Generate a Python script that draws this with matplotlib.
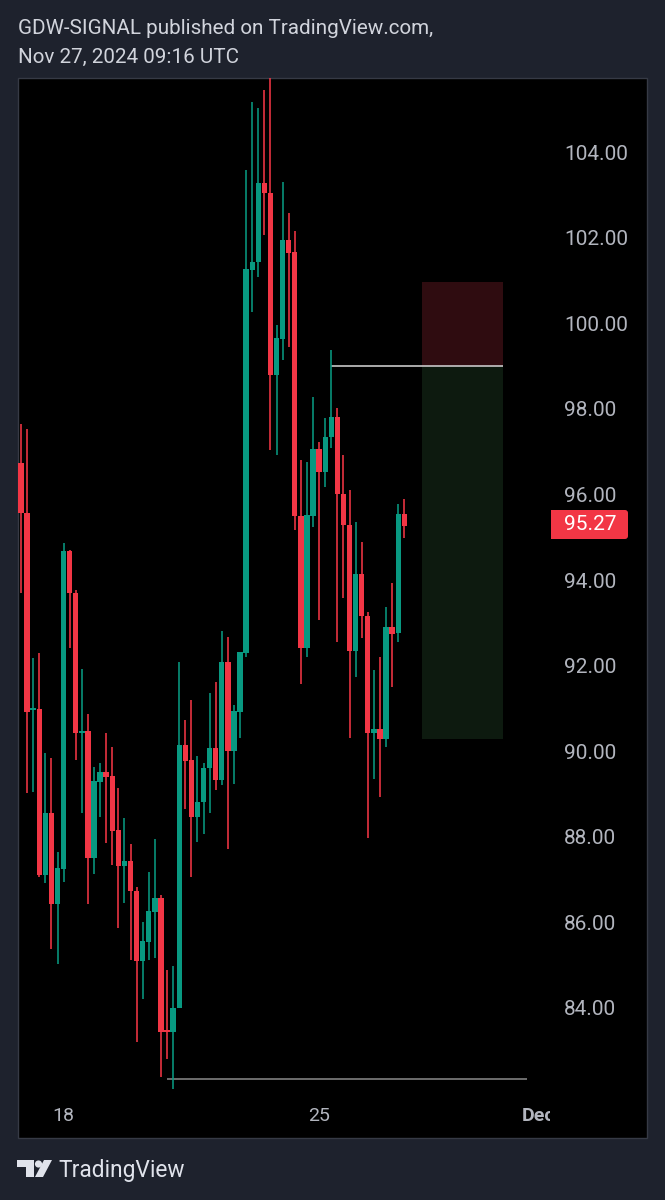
import matplotlib
matplotlib.use('Agg')
import matplotlib.pyplot as plt
from matplotlib.patches import FancyBboxPatch, Polygon, Circle, Rectangle
from matplotlib.transforms import Bbox

plt.rcParams['font.family'] = ['Roboto', 'DejaVu Sans']

# 4h candles
opens = [96.73, 95.57, 90.96, 90.99, 87.11, 88.56, 86.43, 87.25, 94.68, 93.70, 90.43, 90.47,
         87.51, 89.28, 89.51, 89.42, 88.16, 87.32, 87.43, 86.73, 85.10, 85.54, 86.24, 86.57,
         83.49, 83.44, 84.00, 90.15, 89.79, 88.46, 88.81, 89.61, 90.08, 89.33, 92.08, 90.00,
         90.92, 92.29, 101.24, 101.43, 103.28, 103.04, 98.79, 99.63, 101.94, 101.66, 95.50, 92.41,
         95.50, 97.06, 96.52, 97.34, 97.81, 96.01, 95.29, 92.34, 94.14, 93.16, 90.43, 90.52,
         90.29, 92.90, 92.76, 95.54]
highs = [97.65, 97.53, 92.18, 92.29, 89.96, 89.84, 87.65, 94.87, 94.70, 93.77, 91.92, 90.87,
         89.63, 89.72, 90.43, 90.10, 89.14, 88.44, 87.83, 86.83, 86.01, 87.18, 87.95, 86.64,
         84.89, 84.98, 92.08, 90.73, 91.20, 89.89, 89.72, 91.36, 91.62, 92.81, 92.67, 91.08,
         92.32, 103.58, 105.17, 105.03, 105.45, 105.75, 99.96, 103.30, 102.58, 102.15, 96.80, 96.76,
         98.28, 97.22, 97.78, 99.37, 98.02, 96.92, 96.10, 95.36, 94.89, 93.25, 91.90, 92.20,
         93.37, 93.93, 95.78, 95.89]
lows = [93.70, 89.02, 89.05, 87.06, 86.92, 85.38, 85.03, 86.94, 92.41, 89.79, 88.56, 86.43,
        87.13, 88.46, 87.85, 87.34, 85.87, 86.45, 85.12, 83.20, 84.21, 85.12, 85.17, 82.39,
        82.81, 82.11, 84.00, 88.65, 87.06, 87.88, 88.07, 88.56, 89.09, 89.21, 87.72, 89.23,
        90.31, 92.20, 100.26, 101.08, 102.06, 97.04, 96.92, 99.14, 99.44, 95.17, 91.57, 92.20,
        95.24, 93.06, 96.17, 97.08, 92.55, 93.58, 90.31, 91.73, 92.64, 87.97, 89.35, 88.93,
        90.10, 91.50, 92.55, 94.98]
closes = [95.57, 90.92, 91.01, 87.11, 88.56, 86.43, 87.27, 94.68, 93.70, 90.43, 90.47, 87.51,
          89.30, 89.51, 89.40, 88.14, 87.32, 87.43, 86.73, 85.10, 85.57, 86.27, 86.57, 83.44,
          83.44, 84.00, 90.15, 89.77, 88.46, 88.81, 89.61, 90.08, 89.33, 92.08, 90.00, 90.94,
          92.32, 101.27, 101.43, 103.28, 103.04, 98.79, 99.65, 101.94, 101.64, 95.50, 92.41, 95.52,
          97.06, 96.52, 97.34, 97.81, 96.01, 95.29, 92.34, 94.14, 93.16, 90.43, 90.52, 90.29,
          92.90, 92.74, 95.54, 95.27]

price_ticks = [84, 86, 88, 90, 92, 94, 96, 98, 100, 102, 104]
date_ticks = [7, 49, 85]
date_labels = ['18', '25', 'Dec']

entry = 99.0
stop = 100.96
target = 90.29
low_line = 82.34

UP = '#089981'
DOWN = '#F23645'
BG = '#1E222D'
LABEL = '#B2B5BE'

fig = plt.figure(figsize=(6.65, 12), dpi=100, facecolor=BG)

# page layer in pixels: chart panel, header, logo, price tag
page = fig.add_axes([0, 0, 1, 1])
page.set_xlim(0, 665)
page.set_ylim(1200, 0)
page.axis('off')
page.add_patch(Rectangle((18, 78), 629, 1060, fc='black', ec='#363A45', lw=1))
page.text(18, 28, 'GDW-SIGNAL published on TradingView.com,', color='#D1D4DC', fontsize=14.9, va='center')
page.text(18, 57, 'Nov 27, 2024 09:16 UTC', color='#D1D4DC', fontsize=14.9, va='center')
page.text(58, 1170, 'TradingView', color='#E0E3EB', fontsize=16.4, va='center')
page.add_patch(Polygon([(17, 1160), (34, 1160), (34, 1177), (26, 1177), (26, 1167), (17, 1167)], fc='#E0E3EB'))
page.add_patch(Circle((38.5, 1164), 3.6, fc='#E0E3EB'))
page.add_patch(Polygon([(44, 1160), (52, 1160), (43, 1177), (35, 1177)], fc='#E0E3EB'))

ax = fig.add_axes([18 / 665, 100 / 1200, 532 / 665, 1022 / 1200])
ax.patch.set_alpha(0)
ax.set_xlim(-0.493, 86.95)
ax.set_ylim(81.85, 105.73)
for s in ax.spines.values():
    s.set_visible(False)

for i in range(len(opens)):
    col = UP if closes[i] >= opens[i] else DOWN
    ax.vlines(i, lows[i], highs[i], color=col, lw=1.3, alpha=0.88, zorder=3)
    ax.bar(i, abs(closes[i] - opens[i]), bottom=min(opens[i], closes[i]), width=0.88, color=col, zorder=4)

# position box and the two drawn lines
ax.fill_between([65.9, 79.2], entry, stop, color='#2F0C10', lw=0, zorder=1)
ax.fill_between([65.9, 79.2], target, entry, color='#0D1A0F', lw=0, zorder=1)
ax.hlines(entry, 51, 79.2, color='#C8C8C8', lw=1.2, zorder=2)
ax.hlines(low_line, 24, 83.2, color='#808080', lw=1.2, zorder=2)

ax.yaxis.tick_right()
ax.set_yticks(price_ticks)
ax.set_yticklabels([f'{p:.2f}' for p in price_ticks], fontsize=15, color=LABEL)
ax.set_xticks(date_ticks)
ax.set_xticklabels(date_labels, fontsize=14, color=LABEL)
ax.tick_params(axis='y', length=0, pad=10.2)
ax.tick_params(axis='x', length=0, pad=5)

dec = ax.get_xticklabels()[2]
dec.set_fontweight('bold')
dec.set_clip_box(Bbox([[0, 0], [550, 1200]]))
dec.set_clip_on(True)

# last price tag, square on the left and rounded on the right
page.add_patch(FancyBboxPatch((560, 510), 68, 29, boxstyle='round,pad=0,rounding_size=3', fc=DOWN, ec='none'))
page.add_patch(Rectangle((551, 510), 20, 29, fc=DOWN, ec='none'))
page.text(590, 525, f'{closes[-1]:.2f}', color='white', fontsize=15, ha='center', va='center')

fig.savefig('out.png', dpi=100, facecolor=BG)
